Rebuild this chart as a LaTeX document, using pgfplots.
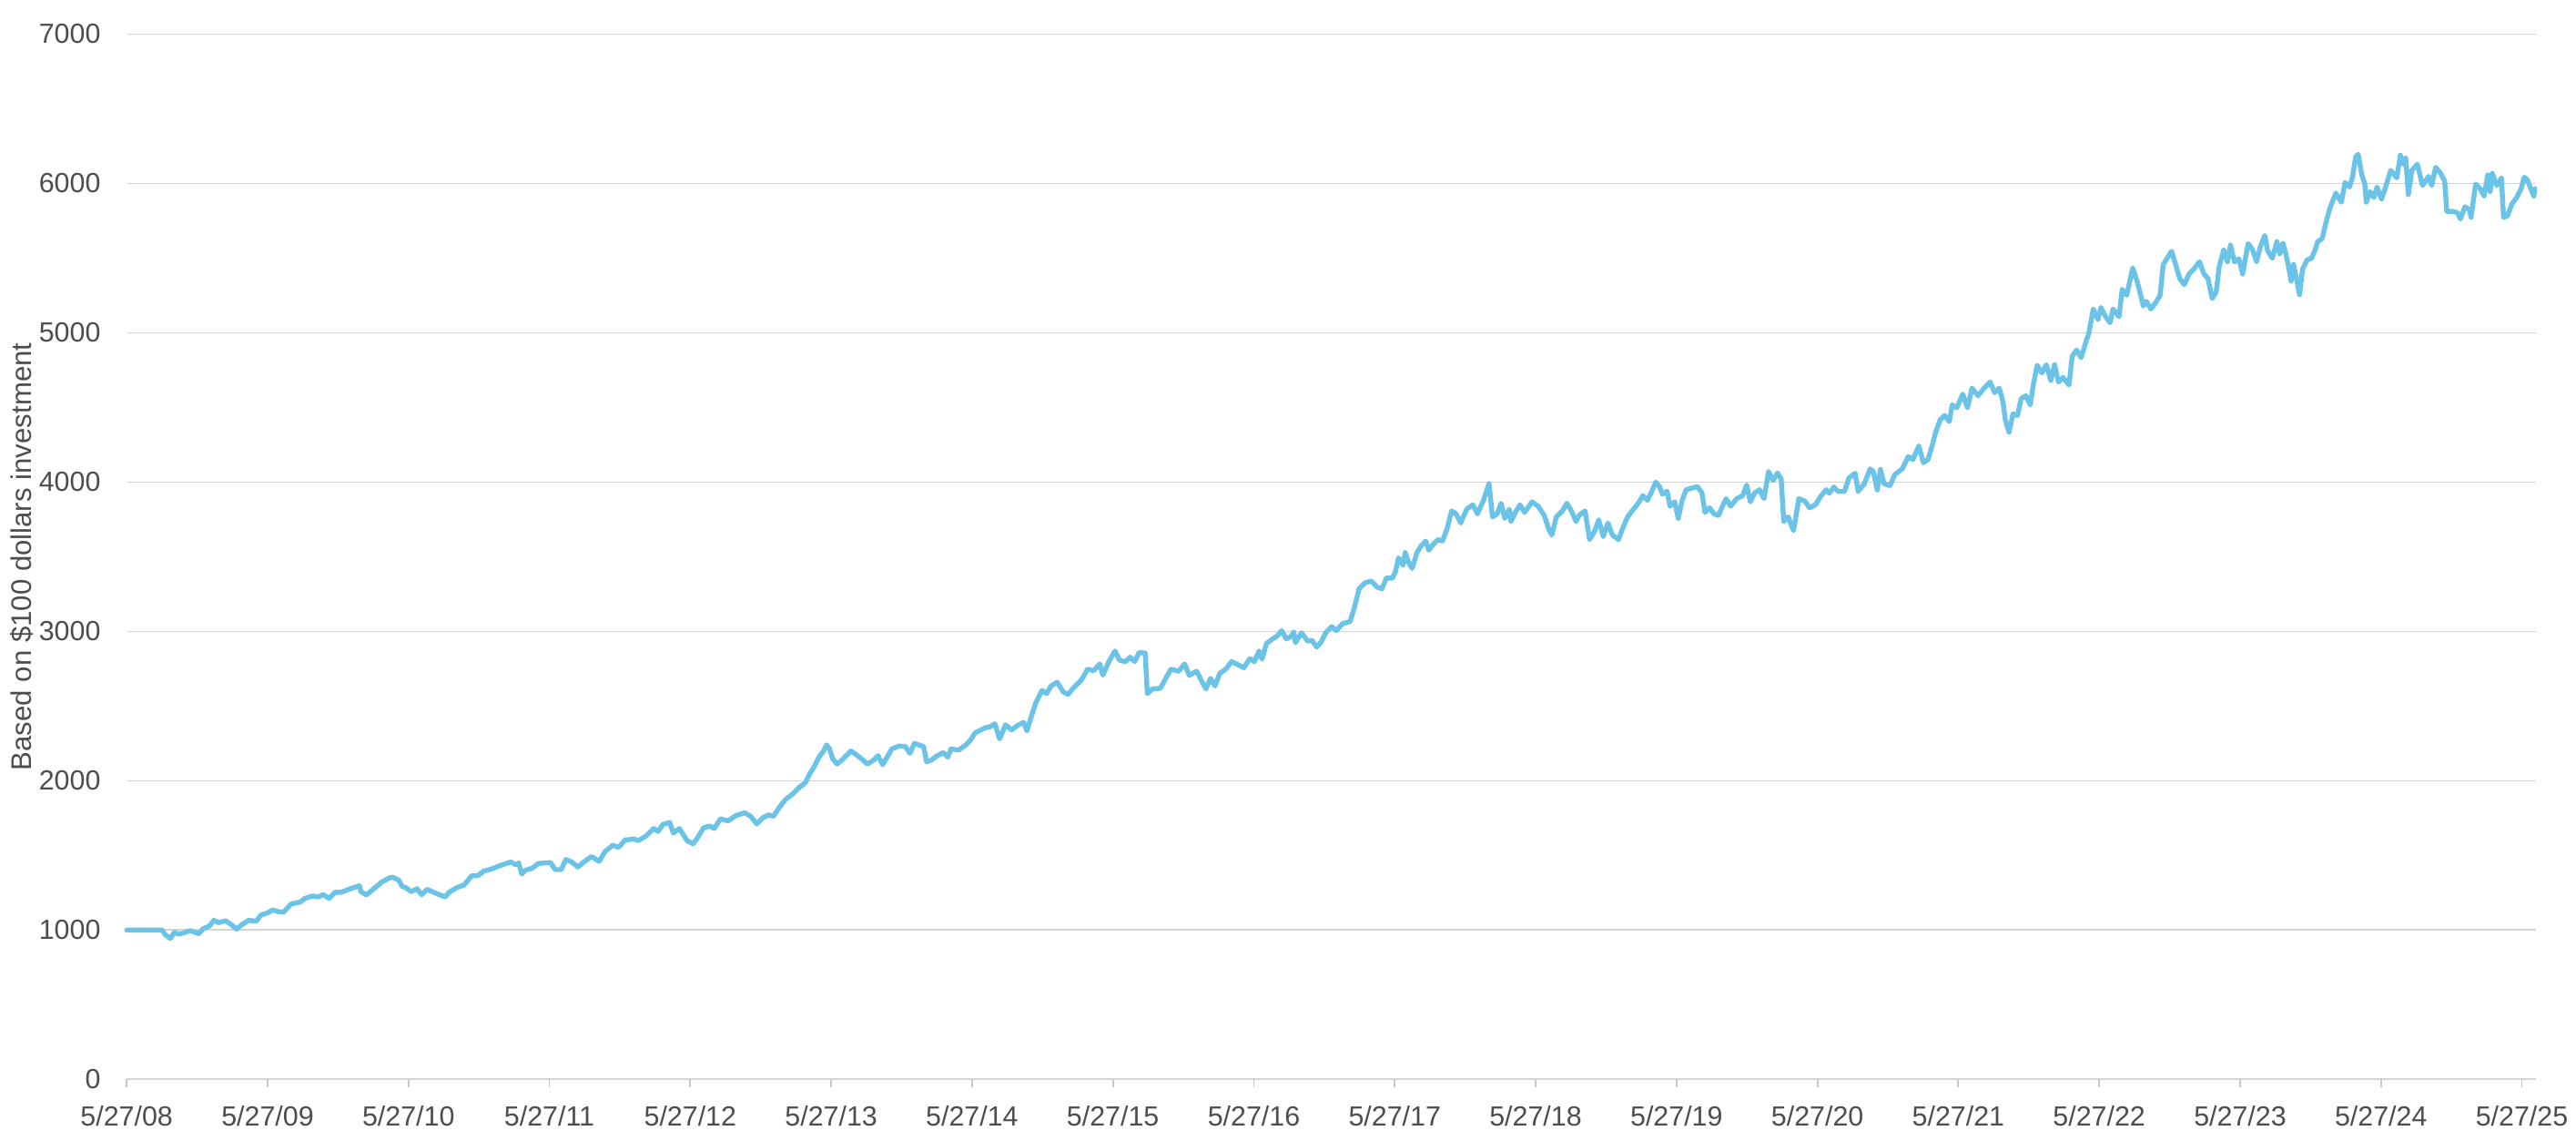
\documentclass[border=0pt]{standalone}
\usepackage{fontspec}
\setmainfont{Liberation Sans}
\usepackage{pgfplots}
\usepackage{pgfplotstable}
\pgfplotsset{compat=1.18}
\definecolor{linecol}{HTML}{6CC3E8}
\definecolor{gridcol}{HTML}{D4D4D4}
\definecolor{tickcol}{HTML}{C8C8C8}
\definecolor{txtcol}{HTML}{4D4D4D}
\pgfplotstableread{
t v
0 1000
0.252 1000
0.274 968
0.31 944
0.338 985
0.37 973
0.403 981
0.452 997
0.511 975
0.543 1010
0.586 1026
0.618 1066
0.651 1050
0.704 1062
0.747 1033
0.78 1007
0.812 1033
0.866 1066
0.919 1059
0.952 1100
0.995 1114
1.038 1135
1.081 1122
1.113 1120
1.167 1175
1.232 1188
1.264 1212
1.318 1228
1.361 1222
1.393 1238
1.436 1212
1.479 1253
1.522 1253
1.576 1273
1.652 1297
1.663 1257
1.701 1236
1.749 1273
1.813 1324
1.867 1350
1.889 1354
1.932 1334
1.954 1293
1.985 1283
2.018 1257
2.061 1277
2.093 1236
2.132 1273
2.179 1253
2.222 1236
2.261 1222
2.287 1253
2.341 1283
2.395 1303
2.449 1364
2.491 1364
2.534 1395
2.588 1409
2.631 1425
2.674 1440
2.728 1456
2.761 1436
2.782 1450
2.804 1375
2.826 1399
2.879 1415
2.922 1446
2.976 1450
3.008 1452
3.041 1405
3.084 1405
3.117 1473
3.159 1456
3.202 1422
3.245 1456
3.299 1493
3.353 1460
3.396 1527
3.45 1568
3.492 1554
3.536 1603
3.6 1610
3.632 1599
3.686 1630
3.74 1680
3.772 1660
3.805 1707
3.854 1721
3.88 1650
3.923 1680
3.977 1599
4.02 1578
4.052 1619
4.095 1685
4.138 1697
4.17 1680
4.214 1745
4.268 1731
4.322 1766
4.386 1786
4.429 1762
4.472 1711
4.515 1752
4.558 1772
4.59 1762
4.633 1823
4.676 1874
4.73 1914
4.773 1955
4.816 1986
4.848 2047
4.881 2097
4.913 2158
4.946 2199
4.967 2240
4.989 2213
5.01 2148
5.042 2112
5.075 2138
5.107 2168
5.139 2199
5.172 2179
5.215 2148
5.258 2112
5.301 2138
5.333 2168
5.365 2107
5.397 2158
5.43 2213
5.484 2233
5.527 2229
5.559 2184
5.591 2250
5.656 2229
5.677 2127
5.71 2138
5.753 2168
5.796 2189
5.828 2158
5.85 2213
5.904 2205
5.957 2240
5.99 2274
6.022 2321
6.065 2341
6.097 2356
6.129 2362
6.162 2382
6.195 2280
6.238 2375
6.281 2340
6.324 2371
6.367 2391
6.389 2334
6.421 2432
6.453 2523
6.496 2605
6.529 2584
6.561 2635
6.604 2660
6.647 2595
6.68 2578
6.723 2625
6.777 2676
6.82 2747
6.863 2737
6.906 2782
6.928 2707
6.971 2798
7.014 2869
7.046 2808
7.089 2798
7.122 2828
7.154 2798
7.186 2859
7.229 2855
7.244 2584
7.283 2615
7.337 2619
7.369 2676
7.412 2747
7.466 2733
7.509 2782
7.541 2707
7.595 2733
7.627 2672
7.66 2615
7.692 2686
7.724 2635
7.757 2717
7.8 2747
7.843 2798
7.886 2778
7.929 2757
7.972 2818
8.004 2798
8.037 2869
8.058 2814
8.09 2920
8.133 2950
8.166 2970
8.198 3005
8.23 2950
8.263 2965
8.284 2997
8.295 2924
8.338 2991
8.381 2936
8.413 2940
8.446 2895
8.478 2930
8.51 2991
8.553 3032
8.586 3005
8.629 3052
8.683 3066
8.715 3164
8.747 3286
8.79 3326
8.833 3337
8.876 3296
8.909 3286
8.941 3357
8.984 3357
9.006 3402
9.027 3493
9.059 3443
9.074 3528
9.102 3453
9.124 3422
9.156 3524
9.188 3574
9.22 3605
9.242 3544
9.274 3584
9.307 3615
9.339 3605
9.371 3686
9.404 3807
9.436 3787
9.468 3726
9.511 3818
9.554 3848
9.587 3787
9.63 3878
9.669 3990
9.694 3767
9.727 3787
9.755 3858
9.781 3757
9.813 3818
9.824 3736
9.856 3797
9.889 3848
9.921 3797
9.975 3868
10.018 3838
10.061 3777
10.093 3686
10.115 3645
10.147 3767
10.19 3807
10.222 3858
10.254 3807
10.287 3736
10.308 3777
10.351 3807
10.383 3615
10.416 3666
10.448 3747
10.48 3635
10.513 3726
10.545 3645
10.588 3615
10.62 3696
10.653 3767
10.685 3807
10.728 3858
10.761 3909
10.793 3878
10.825 3939
10.853 4000
10.879 3970
10.9 3919
10.933 3939
10.954 3838
10.987 3868
11.012 3757
11.04 3878
11.068 3949
11.105 3959
11.148 3970
11.18 3929
11.202 3797
11.234 3828
11.266 3787
11.298 3777
11.331 3848
11.352 3889
11.384 3838
11.427 3889
11.47 3909
11.498 3980
11.524 3868
11.556 3929
11.589 3949
11.621 3889
11.653 4071
11.685 4010
11.717 4061
11.743 4020
11.761 3736
11.793 3767
11.83 3676
11.847 3767
11.868 3889
11.911 3872
11.944 3828
11.987 3848
12.019 3899
12.062 3949
12.085 3926
12.117 3967
12.149 3937
12.192 3937
12.224 4028
12.268 4059
12.289 3937
12.332 3988
12.375 4089
12.397 4069
12.425 3947
12.447 4085
12.473 3988
12.516 3977
12.548 4049
12.602 4089
12.645 4171
12.677 4151
12.72 4242
12.752 4130
12.785 4151
12.817 4252
12.839 4334
12.871 4415
12.903 4446
12.936 4405
12.957 4517
12.989 4497
13.032 4589
13.065 4497
13.097 4629
13.14 4578
13.183 4629
13.226 4670
13.258 4599
13.291 4629
13.317 4538
13.334 4415
13.36 4334
13.388 4456
13.42 4446
13.446 4558
13.48 4578
13.511 4517
13.532 4650
13.56 4782
13.593 4731
13.625 4786
13.657 4680
13.683 4786
13.711 4670
13.743 4701
13.786 4650
13.808 4843
13.84 4884
13.872 4833
13.905 4935
13.926 4996
13.958 5159
13.991 5088
14.012 5169
14.045 5108
14.077 5067
14.098 5159
14.141 5108
14.163 5291
14.195 5251
14.238 5434
14.27 5342
14.292 5261
14.313 5179
14.335 5210
14.367 5159
14.4 5200
14.432 5251
14.454 5454
14.486 5505
14.514 5546
14.54 5464
14.572 5363
14.604 5322
14.637 5393
14.669 5424
14.712 5475
14.744 5393
14.772 5363
14.802 5230
14.83 5271
14.852 5444
14.884 5556
14.91 5475
14.932 5587
14.96 5475
14.992 5495
15.018 5393
15.057 5597
15.089 5556
15.117 5475
15.142 5570
15.175 5651
15.196 5549
15.229 5499
15.261 5610
15.282 5529
15.304 5600
15.325 5529
15.347 5428
15.362 5346
15.379 5458
15.401 5356
15.422 5255
15.444 5428
15.476 5488
15.508 5499
15.53 5549
15.551 5610
15.583 5631
15.605 5722
15.637 5834
15.68 5935
15.719 5874
15.745 6006
15.777 5976
15.799 6047
15.82 6179
15.838 6195
15.864 6057
15.885 5996
15.896 5874
15.922 5945
15.95 5905
15.972 5976
16.004 5894
16.036 5986
16.069 6087
16.112 6037
16.138 6189
16.159 6128
16.176 6169
16.194 5925
16.219 6087
16.258 6128
16.295 5986
16.338 6047
16.36 5986
16.388 6108
16.424 6067
16.452 6016
16.467 5813
16.51 5813
16.543 5803
16.564 5762
16.596 5844
16.628 5823
16.639 5773
16.672 5996
16.704 5965
16.732 5915
16.758 6057
16.775 5945
16.79 6067
16.822 5986
16.855 6037
16.87 5773
16.898 5783
16.93 5864
16.963 5905
16.995 5965
17.016 6041
17.038 6026
17.063 5965
17.085 5915
17.092 5965
}\datatable
\begin{document}
\begin{tikzpicture}
\useasboundingbox (0,0) rectangle (707.5pt,313.25pt);
\begin{axis}[
  at={(34.8pt,16.9pt)}, anchor=south west,
  scale only axis, width=661.7pt, height=287pt,
  xmin=0, xmax=17.1, ymin=0, ymax=7000,
  axis line style={draw=none},
  xtick={0,1,...,17},
  xticklabels={5/27/08,5/27/09,5/27/10,5/27/11,5/27/12,5/27/13,5/27/14,5/27/15,5/27/16,5/27/17,5/27/18,5/27/19,5/27/20,5/27/21,5/27/22,5/27/23,5/27/24,5/27/25},
  ytick={0,1000,2000,3000,4000,5000,6000,7000},
  yticklabels={0,1000,2000,3000,4000,5000,6000,7000},
  ymajorgrids,
  major grid style={draw=gridcol, line width=0.45pt},
  tick align=outside,
  xtick pos=left,
  major tick length=2.25pt,
  xtick style={draw=tickcol, line width=0.45pt},
  ytick style={draw=none},
  tick label style={font=\fontsize{7.6}{9}\selectfont, text=txtcol},
  yticklabel style={xshift=-1.4pt},
  xticklabel style={yshift=-1.5pt},
  ylabel={Based on \$100 dollars investment},
  every axis y label/.style={at={(axis description cs:-0.0435,0.5)}, rotate=90, anchor=center, font=\fontsize{7.8}{9}\selectfont, text=txtcol},
  clip=false,
]
\addplot[linecol, line width=1.35pt, line join=round, line cap=round] table[x=t, y=v] {\datatable};
\end{axis}
\end{tikzpicture}
\end{document}
